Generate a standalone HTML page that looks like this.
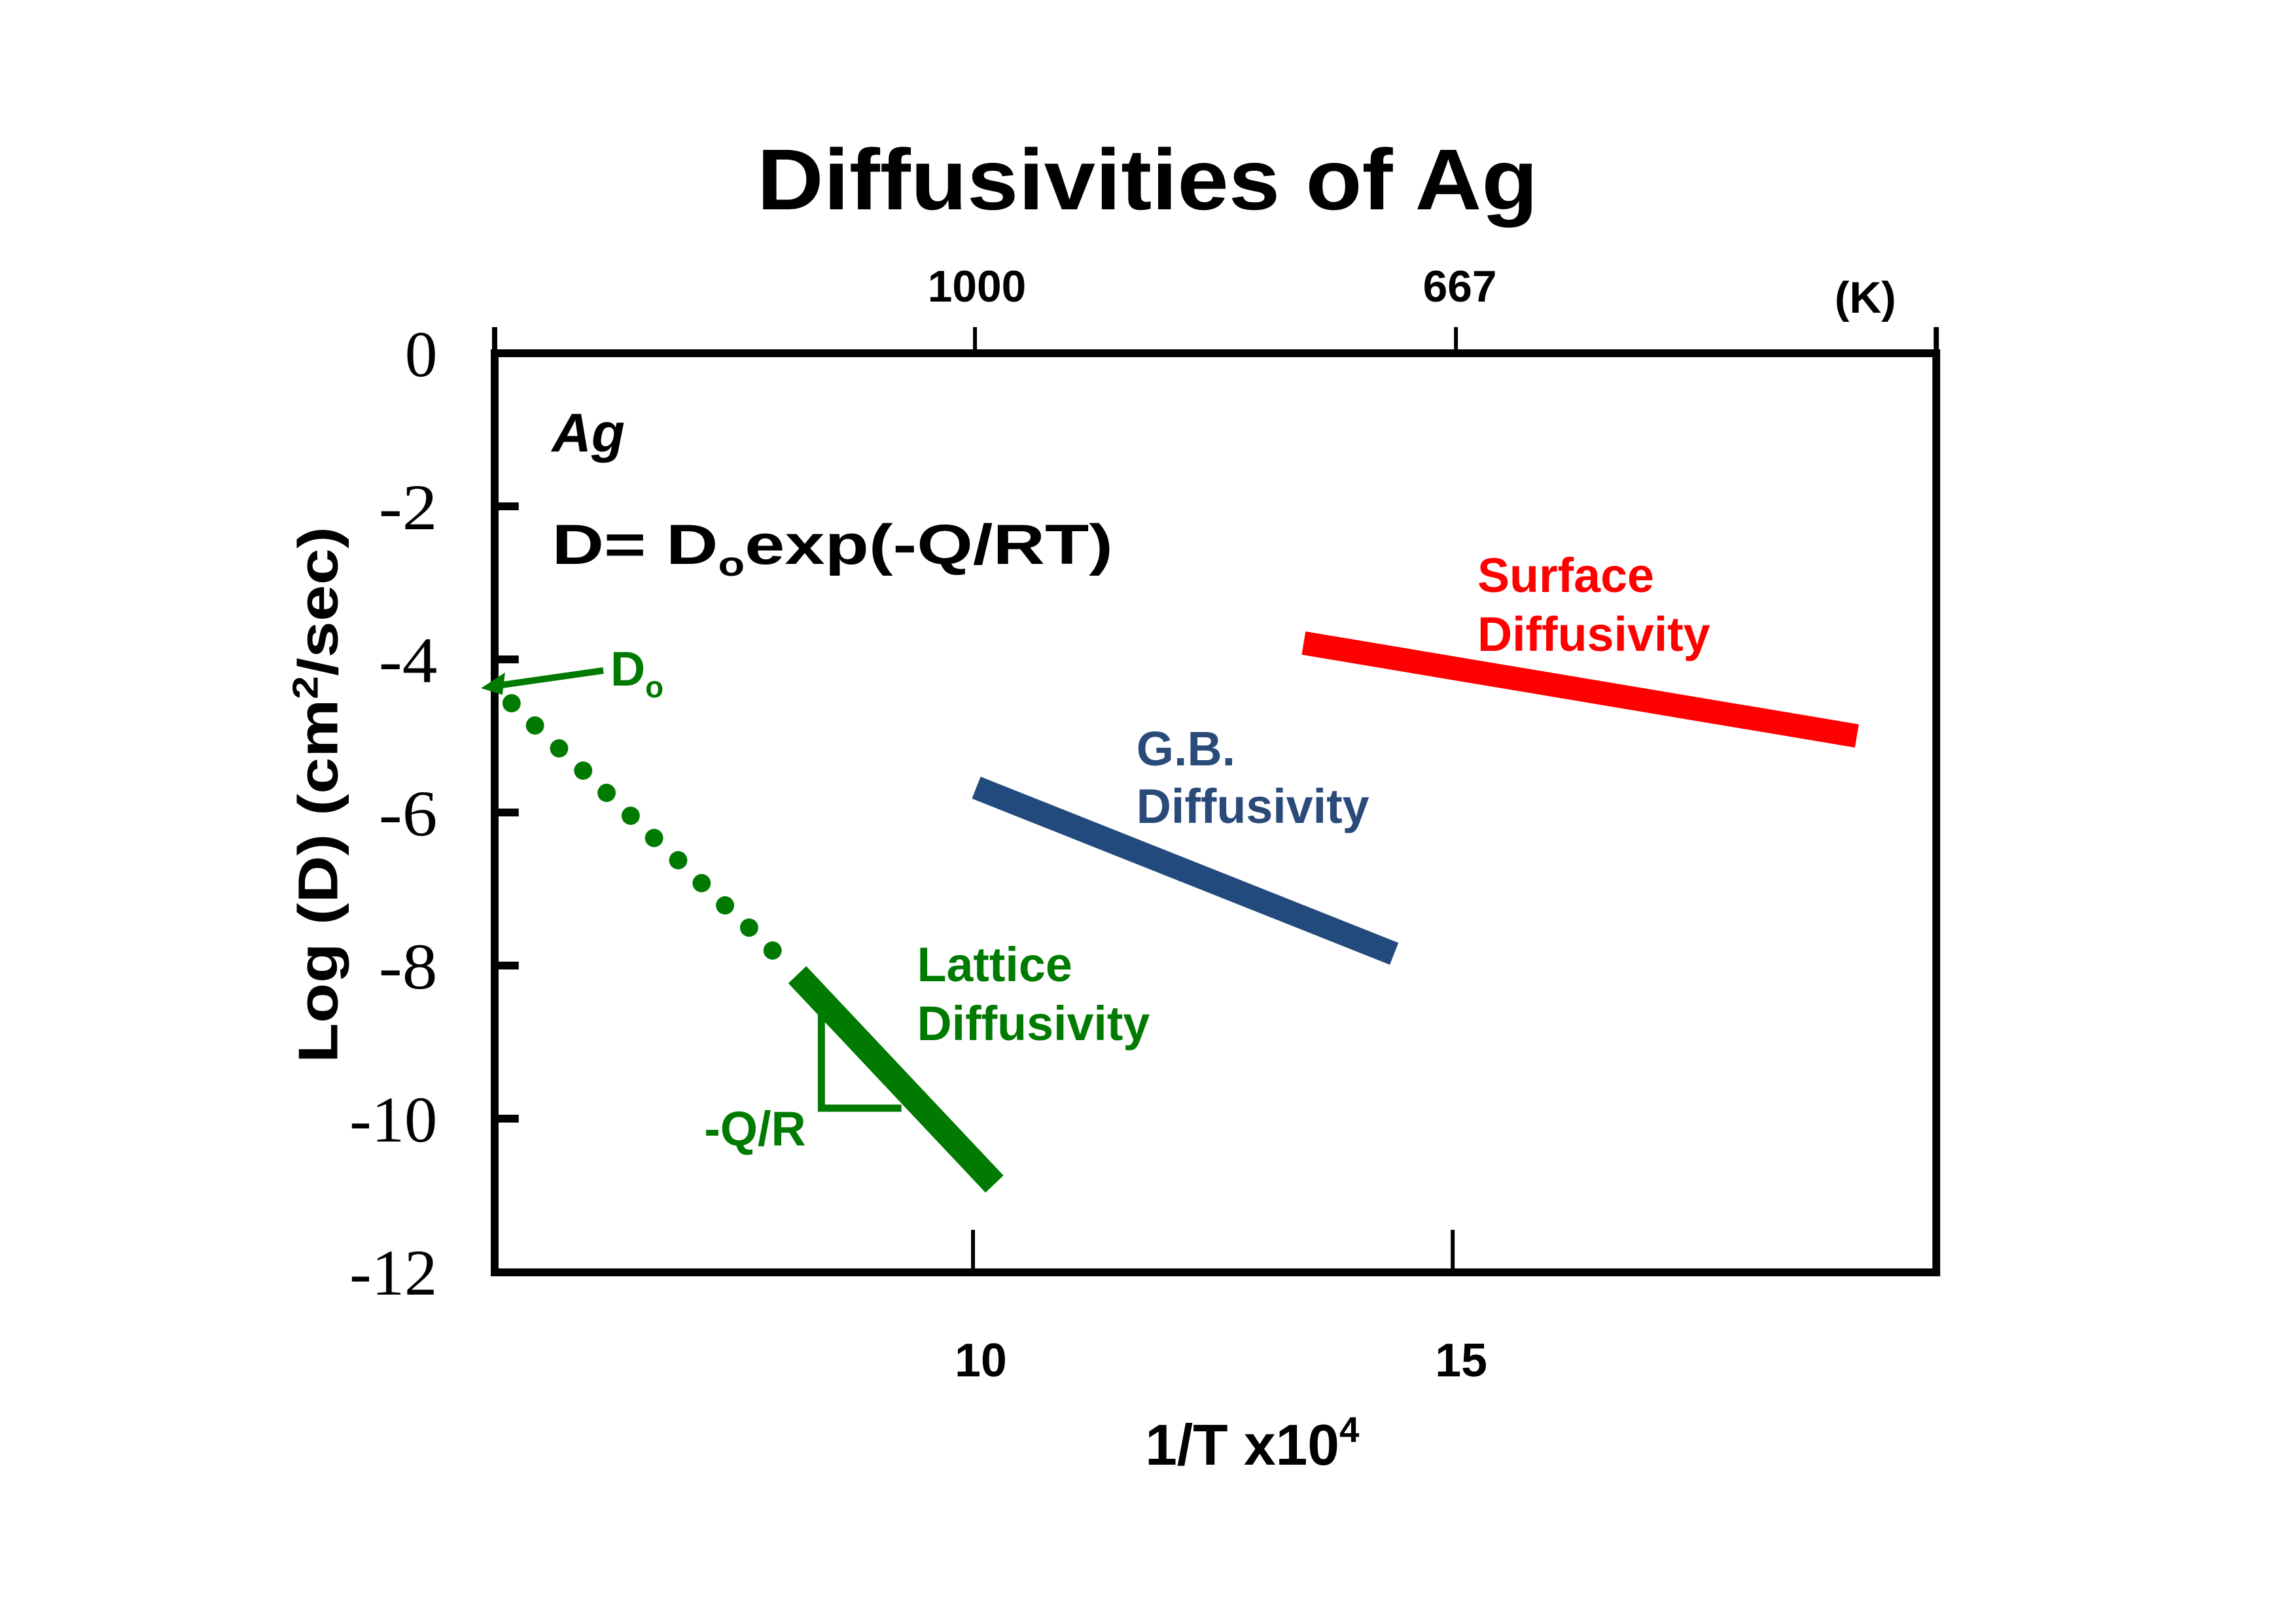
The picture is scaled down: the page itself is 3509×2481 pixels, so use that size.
<!DOCTYPE html>
<html><head><meta charset="utf-8"><style>
html,body{margin:0;padding:0;background:#fff;}
svg{display:block;}
</style></head><body>
<svg width="3509" height="2481" viewBox="0 0 3509 2481" xmlns="http://www.w3.org/2000/svg" font-family="Liberation Sans, sans-serif">
<rect width="3509" height="2481" fill="#fff"/>
<g transform="scale(0.9947,1)">
<text x="1763" y="320" font-size="132" font-weight="bold" text-anchor="middle" textLength="1200" lengthAdjust="spacingAndGlyphs">Diffusivities of Ag</text>
<text x="1501" y="461" font-size="68" font-weight="bold" text-anchor="middle">1000</text>
<text x="2243" y="461" font-size="68" font-weight="bold" text-anchor="middle">667</text>
<text x="2866" y="478" font-size="68" font-weight="bold" text-anchor="middle">(K)</text>
<g stroke="#000" fill="none">
<rect x="760" y="540" width="2215" height="1405" stroke-width="12"/>
<line x1="760" y1="500" x2="760" y2="545" stroke-width="8"/>
<line x1="2975" y1="500" x2="2975" y2="545" stroke-width="8"/>
<line x1="1498" y1="500" x2="1498" y2="545" stroke-width="6"/>
<line x1="2237" y1="500" x2="2237" y2="545" stroke-width="6"/>
<line x1="1495" y1="1880" x2="1495" y2="1945" stroke-width="6"/>
<line x1="2232" y1="1880" x2="2232" y2="1945" stroke-width="6"/>
<g stroke-width="12">
<line x1="760" y1="774" x2="797" y2="774"/>
<line x1="760" y1="1008" x2="797" y2="1008"/>
<line x1="760" y1="1242" x2="797" y2="1242"/>
<line x1="760" y1="1476" x2="797" y2="1476"/>
<line x1="760" y1="1710" x2="797" y2="1710"/>
</g>
</g>
<g font-family="Liberation Serif, serif" font-size="100" text-anchor="end">
<text x="672" y="575" textLength="50" lengthAdjust="spacingAndGlyphs">0</text>
<text x="672" y="809" textLength="90" lengthAdjust="spacingAndGlyphs">-2</text>
<text x="672" y="1043" textLength="90" lengthAdjust="spacingAndGlyphs">-4</text>
<text x="672" y="1277" textLength="90" lengthAdjust="spacingAndGlyphs">-6</text>
<text x="672" y="1511" textLength="90" lengthAdjust="spacingAndGlyphs">-8</text>
<text x="672" y="1745" textLength="135" lengthAdjust="spacingAndGlyphs">-10</text>
<text x="672" y="1979" textLength="135" lengthAdjust="spacingAndGlyphs">-12</text>
</g>
<text transform="translate(518,1215) rotate(-90)" font-size="86" font-weight="bold" text-anchor="middle" textLength="820" lengthAdjust="spacingAndGlyphs">Log (D) (cm<tspan font-size="55" dy="-30">2</tspan><tspan dy="30">/sec)</tspan></text>
<text x="1507" y="2104" font-size="72" font-weight="bold" text-anchor="middle">10</text>
<text x="2245" y="2104" font-size="72" font-weight="bold" text-anchor="middle">15</text>
<text x="1924" y="2239" font-size="88" font-weight="bold" text-anchor="middle">1/T x10<tspan font-size="55" dy="-35">4</tspan></text>
<text x="848" y="690" font-size="84" font-weight="bold" font-style="italic">Ag</text>
<text x="848" y="862" font-size="86" font-weight="bold" textLength="862" lengthAdjust="spacingAndGlyphs">D= D<tspan font-size="52" dy="18">o</tspan><tspan dy="-18">exp(-Q/RT)</tspan></text>
<g fill="#007a00">
<circle cx="786" cy="1075" r="14"/><circle cx="822" cy="1109" r="14"/><circle cx="859" cy="1144" r="14"/>
<circle cx="896" cy="1178" r="14"/><circle cx="932" cy="1212" r="14"/><circle cx="969" cy="1247" r="14"/>
<circle cx="1005" cy="1281" r="14"/><circle cx="1042" cy="1315" r="14"/><circle cx="1078" cy="1350" r="14"/>
<circle cx="1114" cy="1384" r="14"/><circle cx="1151" cy="1418" r="14"/><circle cx="1187" cy="1453" r="14"/>
<polygon points="739,1052 776,1028 772,1062"/>
</g>
<line x1="927" y1="1025" x2="765" y2="1048" stroke="#007a00" stroke-width="10"/>
<text x="938" y="1048" font-size="74" font-weight="bold" fill="#007a00">D<tspan font-size="46" dy="18">o</tspan></text>
<line x1="1225" y1="1490" x2="1528" y2="1810" stroke="#007a00" stroke-width="38"/>
<polyline points="1262,1540 1262,1694 1385,1694" fill="none" stroke="#007a00" stroke-width="11"/>
<text x="1082" y="1751" font-size="74" font-weight="bold" fill="#007a00">-Q/R</text>
<text x="1409" y="1500" font-size="74" font-weight="bold" fill="#007a00">Lattice</text>
<text x="1409" y="1590" font-size="74" font-weight="bold" fill="#007a00">Diffusivity</text>
<line x1="1500" y1="1204" x2="2142" y2="1458" stroke="#224a7c" stroke-width="36"/>
<text x="1746" y="1170" font-size="74" font-weight="bold" fill="#2a4a7a">G.B.</text>
<text x="1746" y="1258" font-size="74" font-weight="bold" fill="#2a4a7a">Diffusivity</text>
<line x1="2003" y1="983" x2="2853" y2="1125" stroke="#ff0000" stroke-width="36"/>
<text x="2270" y="905" font-size="74" font-weight="bold" fill="#ff0000">Surface</text>
<text x="2270" y="995" font-size="74" font-weight="bold" fill="#ff0000">Diffusivity</text>
</g>
</svg>
</body></html>
